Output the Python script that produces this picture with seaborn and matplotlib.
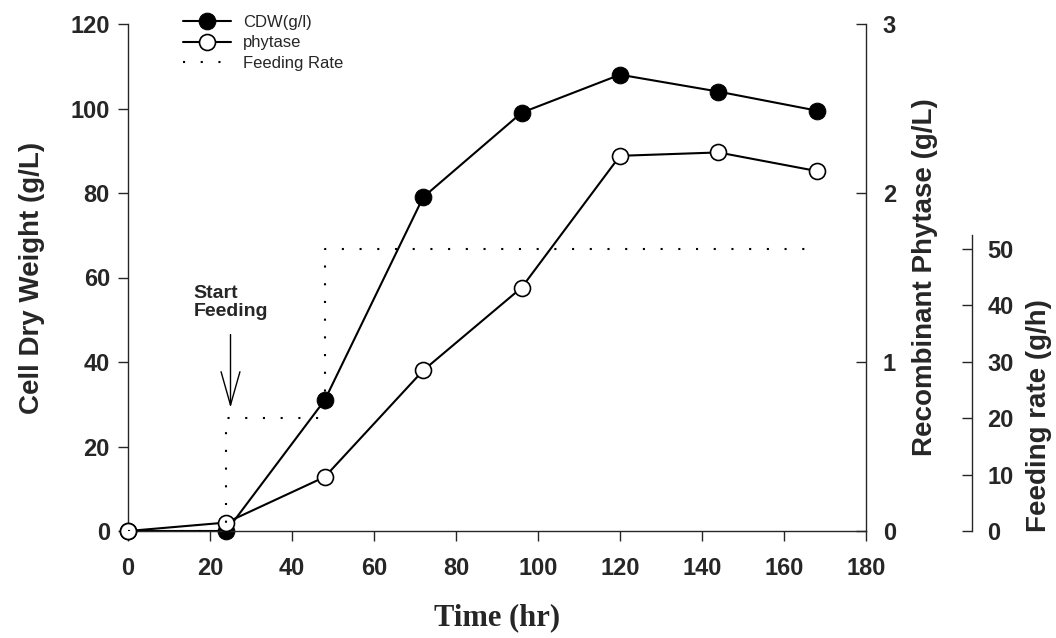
import matplotlib
matplotlib.use("Agg")
import matplotlib.pyplot as plt
import seaborn as sns
import numpy as np

# Fermentation time course (hours)
hours = [0, 24, 48, 72, 96, 120, 144, 168]
cdw = [0, 0, 31, 79, 99, 108, 104, 99.5]             # g/L, left axis
phytase = [0, 0.05, 0.32, 0.95, 1.44, 2.22, 2.24, 2.13]  # g/L, right axis
# Feeding schedule (step changes)
feed_time = [0, 24, 48, 168]
feed_rate = [0, 20, 50, 50]                            # g/h

x_ticks = [0, 20, 40, 60, 80, 100, 120, 140, 160, 180]
cdw_ticks = [0, 20, 40, 60, 80, 100, 120]
phy_ticks = [0, 1, 2, 3]
feed_ticks = [0, 10, 20, 30, 40, 50]

sns.set_style("ticks")
plt.rcParams["font.family"] = ["Liberation Sans", "DejaVu Sans"]
plt.rcParams["font.weight"] = "bold"
plt.rcParams["axes.linewidth"] = 1.0

W, H = 1056, 638
fig = plt.figure(figsize=(W / 100, H / 100), dpi=100)
left, right, top, bottom = 128, 866, 24, 531
ax = fig.add_axes([left / W, 1 - bottom / H, (right - left) / W, (bottom - top) / H])
ax2 = ax.twinx()
ax3 = ax.twinx()

dots = (0, (1, 7.5))

sns.lineplot(x=hours, y=cdw, ax=ax, color="black", lw=1.5, marker="o",
             markersize=12, markerfacecolor="black", markeredgecolor="black",
             clip_on=False, legend=False)
sns.lineplot(x=hours, y=phytase, ax=ax2, color="black", lw=1.5, marker="o",
             markersize=11.5, markerfacecolor="white", markeredgecolor="black",
             markeredgewidth=1.2, clip_on=False, legend=False)
sns.lineplot(x=feed_time, y=feed_rate, ax=ax3, color="black", lw=1.5,
             linestyle=dots, drawstyle="steps-post", legend=False)

# Left axis: cell dry weight
ax.set_xlim(0, 180)
ax.set_ylim(0, 120)
ax.set_xticks(x_ticks)
ax.set_yticks(cdw_ticks)
ax.spines["top"].set_visible(False)
ax.spines["right"].set_visible(False)
ax.tick_params(axis="y", direction="out", length=7, width=1, pad=6, labelsize=17)
ax.tick_params(axis="x", direction="out", length=7, width=1, pad=12, labelsize=17)
ax.set_ylabel("Cell Dry Weight (g/L)", fontsize=20, fontweight="bold")
ax.yaxis.set_label_coords(-0.113, 0.5)
ax.set_xlabel("Time (hr)", fontsize=22, fontweight="bold", family="Liberation Serif")
ax.xaxis.set_label_coords(0.5, -0.142)

# Right axis: recombinant phytase
ax2.set_ylim(0, 3)
ax2.set_yticks(phy_ticks)
for s in ("top", "left", "bottom"):
    ax2.spines[s].set_visible(False)
ax2.tick_params(axis="y", direction="in", length=7, width=1, pad=12, labelsize=17)
ax2.set_ylabel("Recombinant Phytase (g/L)", fontsize=20, fontweight="bold")
ax2.yaxis.set_label_coords(1.062, 0.5)

# Offset axis: feeding rate
ax3.set_ylim(0, 507 / 5.64)
ax3.set_yticks(feed_ticks)
for s in ("top", "left", "bottom"):
    ax3.spines[s].set_visible(False)
ax3.spines["right"].set_position(("axes", (972 - left) / (right - left)))
ax3.spines["right"].set_bounds(0, 52.5)
ax3.tick_params(axis="y", direction="in", length=7, width=1, pad=11, labelsize=17)
ax3.set_ylabel("Feeding rate (g/h)", fontsize=20, fontweight="bold")
ax3.yaxis.set_label_coords(1.217, 0.227)

# Start of feeding annotation
ax.text(16, 58.3, "Start\nFeeding", fontsize=14, fontweight="bold",
        ha="left", va="top", linespacing=1.1)
ax.annotate("", xy=(25, 29.2), xytext=(25, 46.5),
            arrowprops=dict(arrowstyle="->,head_length=1.2,head_width=0.34",
                            lw=1, color="black", mutation_scale=20,
                            shrinkA=0, shrinkB=0))

handles = [ax.lines[0], ax2.lines[0], ax3.lines[0]]
labels = ["CDW(g/l)", "phytase", "Feeding Rate"]
ax3.legend(handles, labels, loc="upper left",
           bbox_to_anchor=(183 / W, 1 - 15 / H), bbox_transform=fig.transFigure,
           frameon=False, borderpad=0, borderaxespad=0, handlelength=2.9,
           handletextpad=0.7, labelspacing=0.33,
           prop={"size": 12, "weight": "normal", "family": "Liberation Sans"})

fig.savefig("out.png", dpi=100)
